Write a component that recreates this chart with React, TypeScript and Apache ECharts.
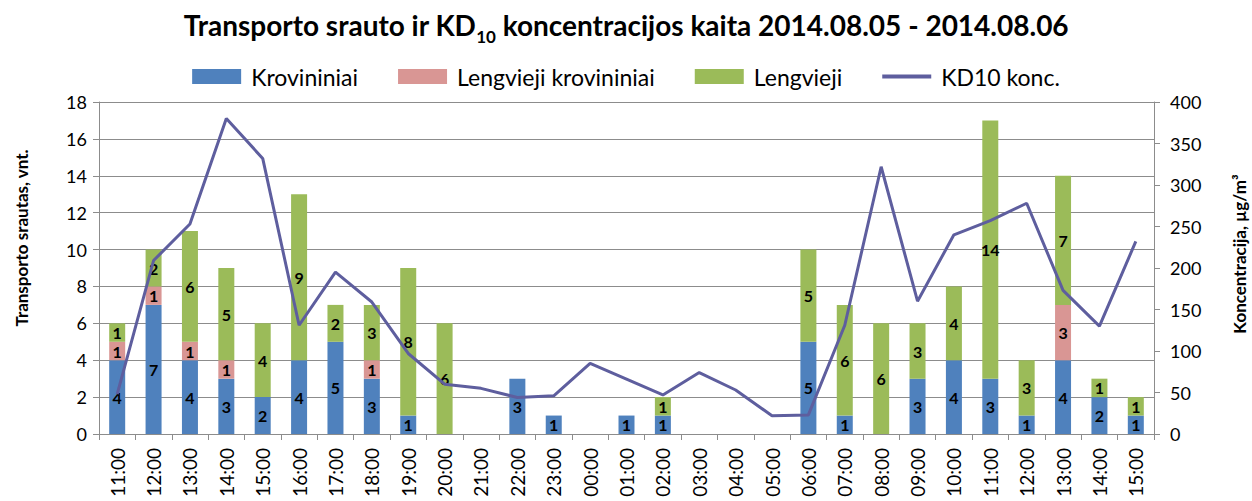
import React, { useEffect, useRef } from "react";
import * as echarts from "echarts";

const categories = [
  "11:00", "12:00", "13:00", "14:00", "15:00", "16:00", "17:00", "18:00", "19:00", "20:00",
  "21:00", "22:00", "23:00", "00:00", "01:00", "02:00", "03:00", "04:00", "05:00", "06:00",
  "07:00", "08:00", "09:00", "10:00", "11:00", "12:00", "13:00", "14:00", "15:00",
];
const krovininiai = [4, 7, 4, 3, 2, 4, 5, 3, 1, 0, 0, 3, 1, 0, 1, 1, 0, 0, 0, 5, 1, 0, 3, 4, 3, 1, 4, 2, 1];
const lengviejiKrovininiai = [1, 1, 1, 1, 0, 0, 0, 1, 0, 0, 0, 0, 0, 0, 0, 0, 0, 0, 0, 0, 0, 0, 0, 0, 0, 0, 3, 0, 0];
const lengvieji = [1, 2, 6, 5, 4, 9, 2, 3, 8, 6, 0, 0, 0, 0, 0, 1, 0, 0, 0, 5, 6, 6, 3, 4, 14, 3, 7, 1, 1];
const kd10 = [48, 209, 253, 380, 332, 131, 195, 159, 97, 60, 55, 44, 46, 85, 66, 47, 74, 53, 22, 23, 131, 322, 160, 240, 257, 278, 173, 130, 232];

const FONT = "Lato";
const GRID = "#8c8c8c";

export default function App() {
  const ref = useRef<HTMLDivElement>(null);
  useEffect(() => {
    const chart = echarts.init(ref.current!, null, { renderer: "svg" });
    const label = {
      show: true,
      position: "inside",
      color: "#000",
      fontFamily: FONT,
      fontWeight: "bold",
      fontSize: 16,
      lineHeight: 16,
      formatter: (p: any) => (p.value ? String(p.value) : ""),
    };
    chart.setOption({
      animation: false,
      backgroundColor: "#fff",
      textStyle: { fontFamily: FONT },
      title: {
        text: "{a|Transporto srauto ir KD}{s|10}{a| koncentracijos kaita 2014.08.05 - 2014.08.06}",
        left: "center",
        top: 0,
        textStyle: {
          rich: {
            a: { fontFamily: FONT, fontSize: 28, fontWeight: "bold", color: "#000", lineHeight: 40, verticalAlign: "middle" },
            s: { fontFamily: FONT, fontSize: 17, fontWeight: "bold", color: "#000", lineHeight: 40, verticalAlign: "bottom" },
          },
        },
      },
      legend: {
        top: 60,
        left: "center",
        itemWidth: 49,
        itemHeight: 15,
        itemGap: 40,
        textStyle: { fontFamily: FONT, fontSize: 23, color: "#000", padding: [0, 0, 0, 5] },
        data: [
          { name: "Krovininiai", icon: "rect" },
          { name: "Lengvieji krovininiai", icon: "rect" },
          { name: "Lengvieji", icon: "rect" },
          { name: "KD10 konc.", icon: "path://M0,0L48,0L48,4L0,4Z" },
        ],
      },
      grid: { left: 99, right: 98, top: 102, bottom: 67, containLabel: false },
      xAxis: {
        type: "category",
        data: categories,
        boundaryGap: true,
        axisLine: { lineStyle: { color: GRID } },
        axisTick: { show: true, length: 6, lineStyle: { color: GRID } },
        axisLabel: { rotate: 90, fontSize: 19, color: "#000", fontFamily: FONT, margin: 14, interval: 0 },
      },
      yAxis: [
        {
          type: "value",
          min: 0,
          max: 18,
          interval: 2,
          axisLine: { show: true, lineStyle: { color: GRID } },
          axisTick: { show: true, length: 6, lineStyle: { color: GRID } },
          axisLabel: { fontSize: 18, color: "#000", fontFamily: FONT, margin: 12 },
          splitLine: { show: true, lineStyle: { color: GRID, width: 1 } },
        },
        {
          type: "value",
          min: 0,
          max: 400,
          interval: 50,
          axisLine: { show: true, lineStyle: { color: GRID } },
          axisTick: { show: true, length: 6, lineStyle: { color: GRID } },
          axisLabel: { fontSize: 18, color: "#000", fontFamily: FONT, margin: 16 },
          splitLine: { show: false },
        },
      ],
      graphic: [
        {
          type: "text",
          x: 21,
          y: 238,
          rotation: Math.PI / 2,
          style: {
            text: "Transporto srautas, vnt.",
            fontFamily: FONT,
            fontSize: 17,
            fontWeight: "bold",
            fill: "#000",
            align: "center",
            verticalAlign: "middle",
          },
        },
        {
          type: "text",
          x: 1239,
          y: 254,
          rotation: Math.PI / 2,
          style: {
            text: "Koncentracija, µg/m³",
            fontFamily: FONT,
            fontSize: 17,
            fontWeight: "bold",
            fill: "#000",
            align: "center",
            verticalAlign: "middle",
          },
        },
      ],
      series: [
        {
          name: "Krovininiai",
          type: "bar",
          stack: "t",
          barWidth: 16,
          data: krovininiai,
          itemStyle: { color: "#4F81BD" },
          label,
        },
        {
          name: "Lengvieji krovininiai",
          type: "bar",
          stack: "t",
          barWidth: 16,
          data: lengviejiKrovininiai,
          itemStyle: { color: "#D99694" },
          label,
        },
        {
          name: "Lengvieji",
          type: "bar",
          stack: "t",
          barWidth: 16,
          data: lengvieji,
          itemStyle: { color: "#9BBB59" },
          label,
        },
        {
          name: "KD10 konc.",
          type: "line",
          yAxisIndex: 1,
          data: kd10,
          symbol: "none",
          showSymbol: false,
          lineStyle: { color: "#5E5E9E", width: 3 },
          itemStyle: { color: "#5E5E9E" },
          z: 5,
        },
      ],
    });
    return () => chart.dispose();
  }, []);
  return (
    <div
      ref={ref}
      style={{ position: "fixed", left: 0, top: 0, width: 1252, height: 501, background: "#fff" }}
    />
  );
}
